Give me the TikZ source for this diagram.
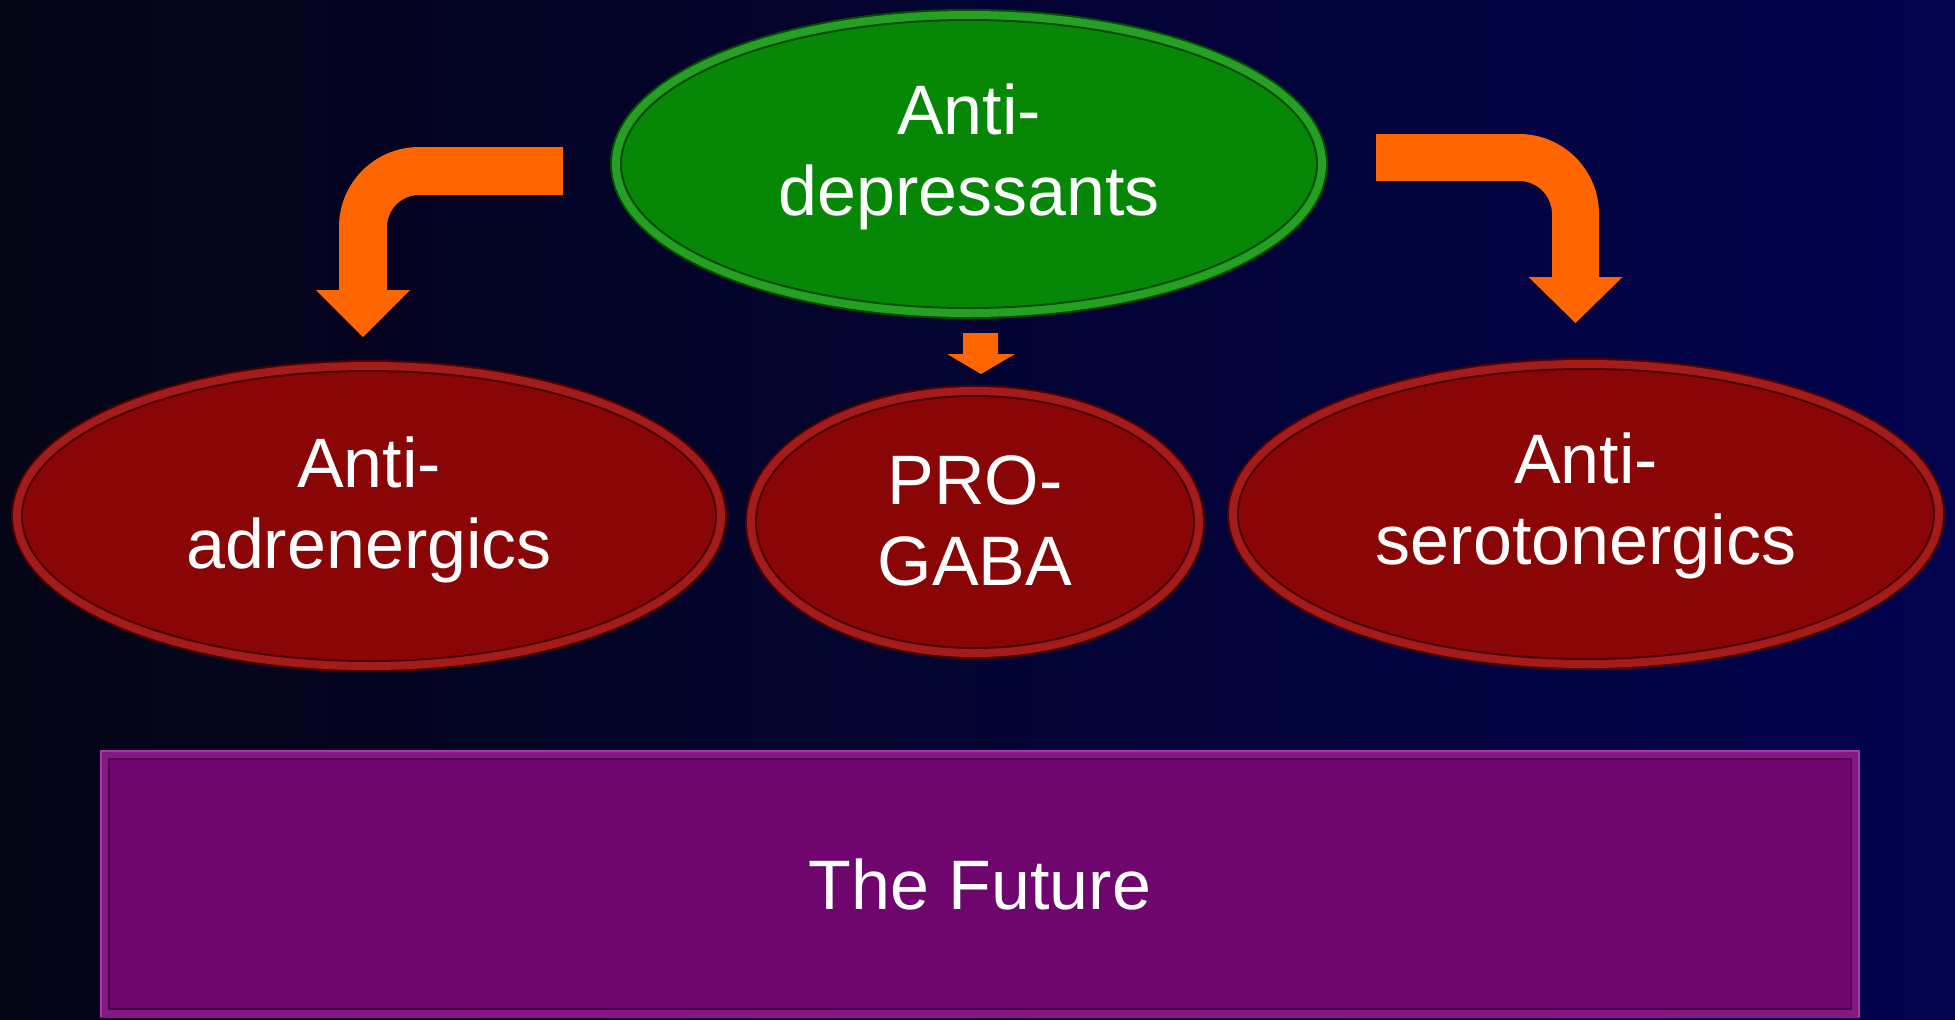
\documentclass[tikz,border=0pt]{standalone}
\usepackage{fontspec}
\setmainfont{Liberation Sans}
\usetikzlibrary{shapes.geometric}

\definecolor{bgleft}{HTML}{050516}
\definecolor{bgright}{HTML}{02024E}
\definecolor{gfill}{HTML}{068806}
\definecolor{gring}{HTML}{25A025}
\definecolor{gline}{HTML}{034D03}
\definecolor{rfill}{HTML}{8A0505}
\definecolor{rring}{HTML}{A41B1B}
\definecolor{rline}{HTML}{4E0000}
\definecolor{pfill}{HTML}{6E066E}
\definecolor{pring}{HTML}{861886}
\definecolor{plight}{HTML}{A33AA3}
\definecolor{pline}{HTML}{4C004C}
\definecolor{arrowfill}{HTML}{FF6600}

\tikzset{
  oval/.style n args={3}{shape=ellipse, inner sep=0pt, fill=#1, draw=#3,
    line width=2pt,
    preaction={draw=#3, line width=22pt},
    preaction={draw=#2, line width=18pt}},
  greenoval/.style={oval={gfill}{gring}{gline}},
  redoval/.style={oval={rfill}{rring}{rline}},
  ovaltext/.style={text=white, align=center, inner sep=0pt,
    font=\fontsize{70}{81}\selectfont},
  blockarrow/.style={fill=arrowfill, draw=none},
}

\begin{document}
\begin{tikzpicture}[x=1pt,y=-1pt]
\useasboundingbox (0,0) rectangle (1955,1020);
% background
\shade[left color=bgleft, right color=bgright] (0,0) rectangle (1955,1020);

% ovals
\node[greenoval, minimum width=696pt, minimum height=288pt] (ad) at (969,164) {};
\node[redoval, minimum width=694pt, minimum height=290pt] (adr) at (369,516) {};
\node[redoval, minimum width=438pt, minimum height=252pt] (gaba) at (975,522) {};
\node[redoval, minimum width=696pt, minimum height=290pt] (ser) at (1586,514) {};

% oval labels
\node[ovaltext] (adt) at ([yshift=7pt]ad.center) {Anti-\\depressants};
\node[ovaltext] (adrt) at ([yshift=6pt]adr.center) {Anti-\\adrenergics};
\node[ovaltext] (gabat) at ([yshift=1pt]gaba.center) {PRO-\\GABA};
\node[ovaltext] (sert) at ([yshift=8pt]ser.center) {Anti-\\serotonergics};

% bevelled box
\fill[pring] (100,750) rectangle (1860,1018);
\draw[plight, line width=2pt] (101,1017) -- (101,751) -- (1859,751) -- (1859,1017);
\draw[plight, line width=2pt] (109,1009) -- (1851,1009);
\node[shape=rectangle, inner sep=0pt, fill=pfill, draw=pline, line width=2pt,
      minimum width=1742pt, minimum height=250pt, text=white,
      font=\fontsize{70}{81}\selectfont] (fut) at (980,884) {The Future};

% bent block arrows
\fill[blockarrow] (563,147) -- (419,147)
  .. controls (374.8,147) and (339,182.8) .. (339,227)
  -- (339,290) -- (316,290) -- (363,337) -- (410,290) -- (387,290) -- (387,227)
  .. controls (387,209.3) and (401.3,195) .. (419,195)
  -- (563,195) -- cycle;
\fill[blockarrow] (1376,134) -- (1519,134)
  .. controls (1563.2,134) and (1599,169.8) .. (1599,214)
  -- (1599,277) -- (1622.5,277) -- (1575.5,323) -- (1528.5,277) -- (1552,277) -- (1552,214)
  .. controls (1552,195.8) and (1537.2,181) .. (1519,181)
  -- (1376,181) -- cycle;
% short straight arrow
\fill[blockarrow] (963,333) -- (998,333) -- (998,354) -- (1015,354) -- (981,374)
  -- (947,354) -- (963,354) -- cycle;
\end{tikzpicture}
\end{document}
